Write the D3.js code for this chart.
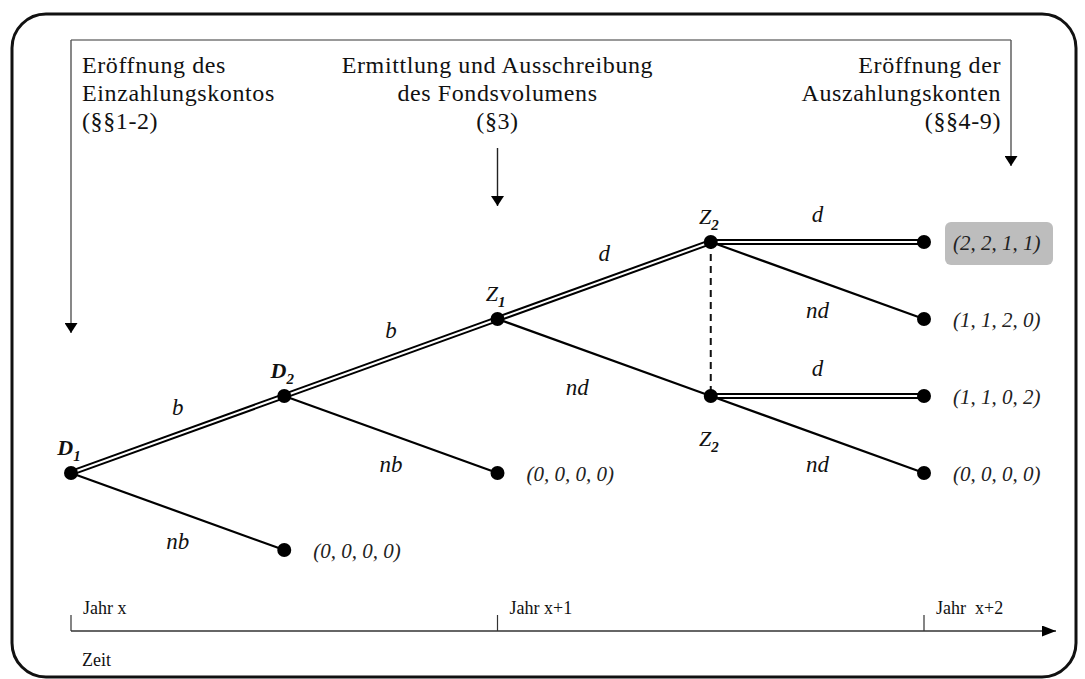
<!DOCTYPE html>
<html><head><meta charset="utf-8">
<script src="https://cdn.jsdelivr.net/npm/d3@7"></script>
<style>body{margin:0;background:#fff}svg{display:block}
text{font-family:"Liberation Serif","Tinos","Times New Roman","Times","DejaVu Serif","Noto Serif",serif;}</style>
</head><body>
<svg id="c" width="1085" height="679"></svg>
<script>
// ---- data ----
const nodes = [
  {id:"D1", stage:0, level:3, label:"D", sub:"1", lpos:"above", boldLabel:true},
  {id:"D2", stage:1, level:2, label:"D", sub:"2", lpos:"above", boldLabel:true},
  {id:"Z1", stage:2, level:1, label:"Z", sub:"1", lpos:"above"},
  {id:"Z2a", stage:3, level:0, label:"Z", sub:"2", lpos:"above"},
  {id:"Z2b", stage:3, level:2, label:"Z", sub:"2", lpos:"below"},
  {id:"T1", stage:1, level:4},
  {id:"T2", stage:2, level:3},
  {id:"T3", stage:4, level:0},
  {id:"T4", stage:4, level:1},
  {id:"T5", stage:4, level:2},
  {id:"T6", stage:4, level:3}
];
const edges = [
  {from:"D1", to:"D2", label:"b", chosen:true},
  {from:"D1", to:"T1", label:"nb", chosen:false},
  {from:"D2", to:"Z1", label:"b", chosen:true},
  {from:"D2", to:"T2", label:"nb", chosen:false},
  {from:"Z1", to:"Z2a", label:"d", chosen:true},
  {from:"Z1", to:"Z2b", label:"nd", chosen:false},
  {from:"Z2a", to:"T3", label:"d", chosen:true},
  {from:"Z2a", to:"T4", label:"nd", chosen:false},
  {from:"Z2b", to:"T5", label:"d", chosen:true},
  {from:"Z2b", to:"T6", label:"nd", chosen:false}
];
const infoSets = [["Z2a","Z2b"]];
const payoffs = [
  {node:"T1", text:"(0, 0, 0, 0)", highlight:false},
  {node:"T2", text:"(0, 0, 0, 0)", highlight:false},
  {node:"T3", text:"(2, 2, 1, 1)", highlight:true},
  {node:"T4", text:"(1, 1, 2, 0)", highlight:false},
  {node:"T5", text:"(1, 1, 0, 2)", highlight:false},
  {node:"T6", text:"(0, 0, 0, 0)", highlight:false}
];
const phases = [
  {stage:0, align:"start", lines:["Eröffnung des","Einzahlungskontos","(§§1-2)"]},
  {stage:2, align:"middle", lines:["Ermittlung und Ausschreibung","des Fondsvolumens","(§3)"]},
  {stage:4, align:"end", lines:["Eröffnung der","Auszahlungskonten","(§§4-9)"]}
];
const years = [
  {stage:0, text:"Jahr x"},
  {stage:2, text:"Jahr x+1"},
  {stage:4, text:"Jahr  x+2"}
];
const axisTitle = "Zeit";

// ---- drawing ----
const svg = d3.select("#c");
const x = d3.scaleLinear().domain([0,4]).range([71,924]);
const y = d3.scaleLinear().domain([0,4]).range([242,550]);
const byId = Object.fromEntries(nodes.map(n=>[n.id,n]));

const defs = svg.append("defs");
defs.append("marker").attr("id","ah").attr("viewBox","0 0 10 10").attr("refX",10).attr("refY",5)
  .attr("markerWidth",10).attr("markerHeight",13).attr("markerUnits","userSpaceOnUse").attr("orient","auto")
  .attr("preserveAspectRatio","none")
  .append("path").attr("d","M0,0L10,5L0,10Z").attr("fill","#000");
defs.append("marker").attr("id","ah2").attr("viewBox","0 0 10 10").attr("refX",10).attr("refY",5)
  .attr("markerWidth",14).attr("markerHeight",11).attr("markerUnits","userSpaceOnUse").attr("orient","auto")
  .attr("preserveAspectRatio","none")
  .append("path").attr("d","M0,0L10,5L0,10Z").attr("fill","#000");

// outer frame
svg.append("rect").attr("x",12).attr("y",14).attr("width",1064).attr("height",663)
  .attr("rx",34).attr("fill","none").attr("stroke","#111").attr("stroke-width",3);

// phase bracket
const topY = 40;
svg.append("line").attr("x1",x(0)).attr("x2",x(4)+87).attr("y1",topY).attr("y2",topY)
  .attr("stroke","#777").attr("stroke-width",1.6);
svg.append("line").attr("x1",x(0)).attr("x2",x(0)).attr("y1",topY).attr("y2",333)
  .attr("stroke","#555").attr("stroke-width",1.4).attr("marker-end","url(#ah)");
svg.append("line").attr("x1",x(4)+87).attr("x2",x(4)+87).attr("y1",topY).attr("y2",166)
  .attr("stroke","#555").attr("stroke-width",1.4).attr("marker-end","url(#ah)");
svg.append("line").attr("x1",x(2)).attr("x2",x(2)).attr("y1",148).attr("y2",206)
  .attr("stroke","#222").attr("stroke-width",1.4).attr("marker-end","url(#ah)");

phases.forEach(p=>{
  const px = p.align==="start" ? x(p.stage)+11 : p.align==="end" ? x(p.stage)+77 : x(p.stage);
  const t = svg.append("text").attr("font-size",24).attr("fill","#111").attr("letter-spacing",0.6)
    .attr("text-anchor",p.align);
  p.lines.forEach((l,i)=>t.append("tspan").attr("x",px).attr("y",73+i*28).text(l));
});

// info set (dashed)
infoSets.forEach(s=>{
  const a=byId[s[0]], b=byId[s[1]];
  svg.append("line").attr("x1",x(a.stage)).attr("x2",x(b.stage)).attr("y1",y(a.level)).attr("y2",y(b.level))
    .attr("stroke","#111").attr("stroke-width",2).attr("stroke-dasharray","7,5");
});

// edges
edges.forEach(e=>{
  const a=byId[e.from], b=byId[e.to];
  const x1=x(a.stage), y1=y(a.level), x2=x(b.stage), y2=y(b.level);
  if(e.chosen){
    svg.append("line").attr("x1",x1).attr("y1",y1).attr("x2",x2).attr("y2",y2)
      .attr("stroke","#000").attr("stroke-width",6);
    svg.append("line").attr("x1",x1).attr("y1",y1).attr("x2",x2).attr("y2",y2)
      .attr("stroke","#fff").attr("stroke-width",2);
  } else {
    svg.append("line").attr("x1",x1).attr("y1",y1).attr("x2",x2).attr("y2",y2)
      .attr("stroke","#000").attr("stroke-width",2.2);
  }
  const mx=(x1+x2)/2, my=(y1+y2)/2;
  const up = y2<=y1;
  const dx = (e.from==="Z1" && e.to==="Z2b") ? -27 : 0;
  svg.append("text").attr("x",mx+dx).attr("y", up ? my-20 : my+37)
    .attr("text-anchor","middle").attr("font-style","italic")
    .attr("font-size",23).attr("fill","#111").text(e.label);
});

// payoffs
payoffs.forEach(p=>{
  const n=byId[p.node];
  const px=x(n.stage)+24, py=y(n.level);
  if(p.highlight){
    svg.append("rect").attr("x",px-3).attr("y",py-20).attr("width",108).attr("height",43)
      .attr("rx",6).attr("fill","#bdbdbd");
  }
  svg.append("text").attr("x",px+5).attr("y",py+8).attr("font-style","italic")
    .attr("font-size",21).attr("fill","#222").text(p.text);
});

// nodes
svg.selectAll("circle.n").data(nodes).join("circle").attr("class","n")
  .attr("cx",d=>x(d.stage)).attr("cy",d=>y(d.level)).attr("r",7).attr("fill","#000");

nodes.filter(n=>n.label).forEach(n=>{
  const cx=x(n.stage), cy=y(n.level);
  const ty = n.lpos==="above" ? cy-18 : cy+50;
  const t=svg.append("text").attr("x",cx-2).attr("y",ty).attr("text-anchor","middle")
    .attr("font-style","italic").attr("font-size",22).attr("fill","#111")
    .attr("font-weight", n.boldLabel ? "bold":"normal");
  t.append("tspan").text(n.label);
  t.append("tspan").attr("dy",6).attr("font-size",15).attr("font-weight","bold").text(n.sub);
});

// time axis
const axY = 631;
svg.append("line").attr("x1",x(0)).attr("x2",1056).attr("y1",axY).attr("y2",axY)
  .attr("stroke","#333").attr("stroke-width",1.6).attr("marker-end","url(#ah2)");
years.forEach(yr=>{
  svg.append("line").attr("x1",x(yr.stage)).attr("x2",x(yr.stage)).attr("y1",axY-16).attr("y2",axY)
    .attr("stroke","#333").attr("stroke-width",1.2);
  svg.append("text").attr("x",x(yr.stage)+12).attr("y",axY-17)
    .attr("font-size",18).attr("fill","#111").style("white-space","pre").text(yr.text);
});
svg.append("text").attr("x",x(0)+11).attr("y",666)
  .attr("font-size",18).attr("fill","#111").text(axisTitle);
</script>
</body></html>
